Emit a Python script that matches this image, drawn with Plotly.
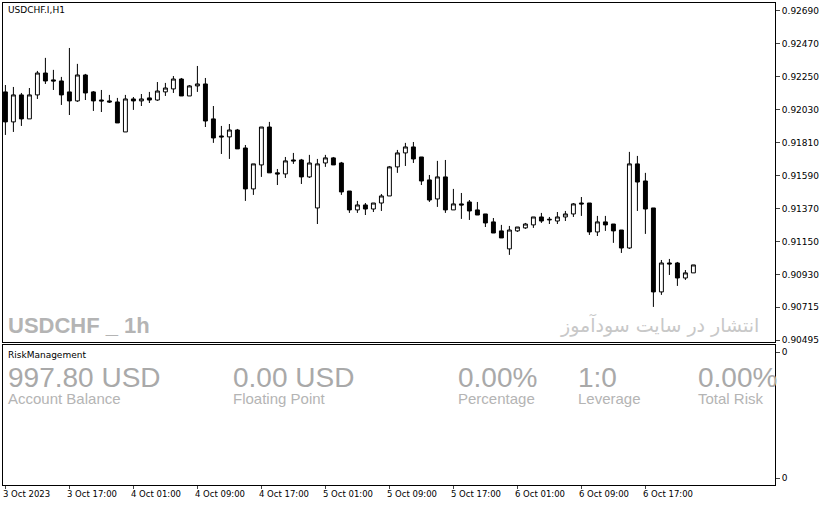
import plotly.graph_objects as go

# USDCHF H1 candles
opens = [92150, 91950, 92130, 91970, 92130, 92276, 92230, 92223, 92150, 92090,
         92263, 92150, 92096, 92090, 92083, 91883, 92103, 92090, 92110, 92096,
         92150, 92170, 92236, 92123, 92190, 92203, 91970, 91856, 91850, 91896,
         91776, 91503, 91663, 91916, 91610, 91603, 91696, 91696, 91583, 91376,
         91676, 91710, 91676, 91489, 91363, 91396, 91369, 91409, 91456, 91650,
         91743, 91783, 91716, 91563, 91436, 91583, 91363, 91403, 91416, 91363,
         91336, 91283, 91223, 91103, 91223, 91243, 91263, 91316, 91296, 91289,
         91316, 91336, 91409, 91409, 91216, 91283, 91269, 91229, 91109, 91670,
         91556, 91376, 90816, 91009, 91009, 90909, 90943]
highs = [92196, 92183, 92143, 92176, 92290, 92377, 92297, 92250, 92443, 92337,
         92270, 92156, 92163, 92130, 92110, 92130, 92116, 92136, 92150, 92216,
         92210, 92256, 92243, 92196, 92323, 92243, 92056, 91923, 91936, 91903,
         91796, 91670, 91916, 91950, 91636, 91716, 91743, 91703, 91730, 91703,
         91730, 91716, 91683, 91489, 91423, 91409, 91409, 91469, 91656, 91763,
         91810, 91816, 91716, 91596, 91690, 91696, 91503, 91476, 91429, 91416,
         91336, 91309, 91263, 91256, 91249, 91276, 91316, 91343, 91316, 91349,
         91356, 91409, 91449, 91409, 91323, 91323, 91269, 91229, 91750, 91723,
         91610, 91376, 91029, 91036, 91016, 90962, 90996]
lows = [91863, 91883, 91923, 91970, 92103, 92203, 92163, 92063, 91996, 92083,
        92096, 92023, 92016, 92076, 91943, 91883, 92030, 92056, 92076, 92090,
        92123, 92143, 92123, 92123, 92150, 91916, 91810, 91736, 91703, 91770,
        91423, 91463, 91583, 91610, 91529, 91576, 91670, 91536, 91576, 91269,
        91650, 91663, 91463, 91343, 91343, 91329, 91349, 91356, 91456, 91610,
        91656, 91676, 91529, 91416, 91383, 91343, 91363, 91303, 91296, 91329,
        91249, 91209, 91176, 91063, 91216, 91236, 91243, 91276, 91269, 91269,
        91289, 91316, 91323, 91196, 91189, 91223, 91143, 91076, 91103, 91356,
        91203, 90716, 90796, 90929, 90856, 90896, 90943]
closes = [91950, 92130, 91970, 92130, 92276, 92223, 92223, 92130, 92090, 92263,
          92143, 92090, 92090, 92083, 91943, 92103, 92090, 92103, 92096, 92156,
          92176, 92236, 92123, 92190, 92203, 91956, 91843, 91850, 91896, 91770,
          91503, 91670, 91916, 91610, 91603, 91690, 91690, 91583, 91676, 91670,
          91710, 91663, 91483, 91363, 91396, 91369, 91409, 91456, 91650, 91743,
          91783, 91703, 91556, 91429, 91583, 91363, 91403, 91396, 91356, 91329,
          91276, 91209, 91176, 91229, 91249, 91269, 91316, 91289, 91300, 91316,
          91336, 91403, 91403, 91216, 91283, 91263, 91223, 91109, 91670, 91549,
          91369, 90816, 91009, 91003, 90909, 90943, 90996]

price_ticks = [0.92690, 0.92470, 0.92250, 0.92030, 0.91810, 0.91590,
               0.91370, 0.91150, 0.90930, 0.90715, 0.90495]
date_labels = ["3 Oct 2023", "3 Oct 17:00", "4 Oct 01:00", "4 Oct 09:00",
               "4 Oct 17:00", "5 Oct 01:00", "5 Oct 09:00", "5 Oct 17:00",
               "6 Oct 01:00", "6 Oct 09:00", "6 Oct 17:00"]
risk_values = ["997.80 USD", "0.00 USD", "0.00%", "1:0", "0.00%"]
risk_names = ["Account Balance", "Floating Point", "Percentage", "Leverage", "Total Risk"]

idx = list(range(len(opens)))
sc = 1e-5

fig = go.Figure(go.Candlestick(
    x=idx, open=[v * sc for v in opens], high=[v * sc for v in highs],
    low=[v * sc for v in lows], close=[v * sc for v in closes],
    increasing=dict(line=dict(color="black", width=1), fillcolor="white"),
    decreasing=dict(line=dict(color="black", width=1), fillcolor="black"),
    whiskerwidth=0, showlegend=False, hoverinfo="skip"))

# empty trace for the indicator window
fig.add_trace(go.Scatter(x=[0], y=[0.5], xaxis="x2", yaxis="y2", mode="markers",
                         marker=dict(opacity=0), showlegend=False, hoverinfo="skip"))

W, H, L, T, B = 821, 506, 3, 3, 21
pw, ph = 772, 482
def px(x):
    return (x - L) / pw
def py(y):
    return (H - B - y) / ph

ax = dict(showgrid=False, zeroline=False, showline=True, mirror=True, linecolor="black",
          linewidth=1)
fig.update_layout(
    width=W, height=H, margin=dict(l=L, r=W - L - pw, t=T, b=B, autoexpand=False),
    paper_bgcolor="white", plot_bgcolor="white",
    font=dict(family="DejaVu Sans", size=9, color="black"),
    xaxis=dict(**ax, range=[-0.3, 96.2], showticklabels=False, rangeslider=dict(visible=False),
               anchor="y"),
    yaxis=dict(**ax, domain=[py(342), 1], side="right", range=[0.90482, 0.92743],
               tickvals=price_ticks, ticktext=["%.5f" % v for v in price_ticks],
               ticks="outside", ticklen=4, tickfont=dict(size=9)),
    xaxis2=dict(**ax, range=[-0.3, 96.2], anchor="y2", ticks="outside", ticklen=3,
                tickvals=[8 * i for i in range(len(date_labels))], showticklabels=False),
    yaxis2=dict(**ax, domain=[0, py(345)], side="right", range=[0, 1],
                tickvals=[0.05, 0.95], ticktext=["0", "0"], ticks="outside", ticklen=4),
)

ann = []
ann.append(dict(x=px(6), y=py(10), text="USDCHF.I,H1", font=dict(size=9)))
ann.append(dict(x=px(6), y=py(325), text="<b>USDCHF _ 1h</b>",
                font=dict(size=22, color="#b4b4b4", family="Liberation Sans Narrow, Liberation Sans")))
ann.append(dict(x=px(558), y=py(325), text="انتشار در سایت سودآموز",
                font=dict(size=19, color="#c8c8c8", family="DejaVu Sans")))
ann.append(dict(x=px(6), y=py(355), text="RiskManagement", font=dict(size=9)))
for i, (v, n) in enumerate(zip(risk_values, risk_names)):
    x0 = [6, 231, 456, 576, 696][i]
    ann.append(dict(x=px(x0), y=py(377), text=v,
                    font=dict(size=28, color="#a9a9a9", family="Liberation Sans")))
    ann.append(dict(x=px(x0), y=py(398), text=n,
                    font=dict(size=15, color="#b4b4b4", family="Liberation Sans")))
for i, d in enumerate(date_labels):
    ann.append(dict(x=px(1 + 64 * i), y=py(494), text=d, font=dict(size=8.5)))
for a in ann:
    a.update(xref="paper", yref="paper", xanchor="left", yanchor="middle", showarrow=False)
fig.update_layout(annotations=ann)

fig.write_html("out.html", config={"displayModeBar": False},
               post_script="document.body.style.margin='0';")
